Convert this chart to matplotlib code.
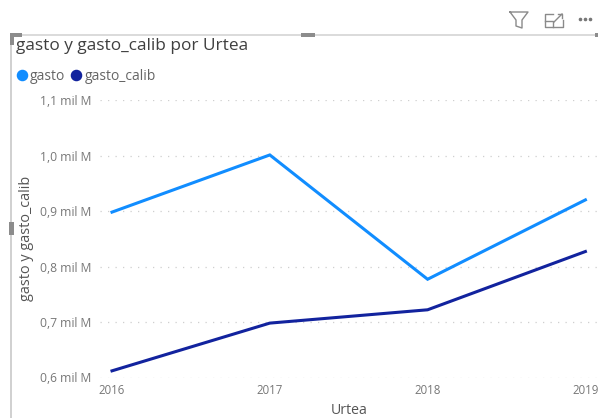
import matplotlib
matplotlib.use("Agg")
import matplotlib.pyplot as plt
from matplotlib.lines import Line2D
from matplotlib.patches import Rectangle

W, H = 598, 418
years = [2016, 2017, 2018, 2019]
gasto = [0.898, 1.001, 0.777, 0.920]
gasto_calib = [0.612, 0.698, 0.722, 0.827]
y_ticks = [0.6, 0.7, 0.8, 0.9, 1.0, 1.1]
y_labels = ["0,6 mil M", "0,7 mil M", "0,8 mil M", "0,9 mil M", "1,0 mil M", "1,1 mil M"]
title = "gasto y gasto_calib por Urtea"
x_title = "Urtea"
y_title = "gasto y gasto_calib"
C1, C2 = "#118DFF", "#12239E"

plt.rcParams["font.family"] = ["Open Sans", "DejaVu Sans"]
fig = plt.figure(figsize=(W / 100, H / 100), dpi=100, facecolor="white")
ax = fig.add_axes([100 / W, (H - 377.5) / H, 498 / W, 277.5 / H])
ax.plot(years, gasto, color=C1, lw=2.2, solid_joinstyle="miter", label="gasto", clip_on=False)
ax.plot(years, gasto_calib, color=C2, lw=2.2, solid_joinstyle="miter", label="gasto_calib", clip_on=False)
ax.set_xlim(2016 - 12 / 157.8, 2016 + 486 / 157.8)
ax.set_ylim(0.6, 1.1)
ax.set_yticks(y_ticks, y_labels)
ax.set_xticks(years, [str(y) for y in years])
ax.tick_params(length=0, labelcolor="#777777")
ax.tick_params(axis="y", labelsize=8.7, pad=6)
ax.tick_params(axis="x", labelsize=8.3, pad=4.5)
ax.grid(axis="y", color="#cfcfcf", lw=0.9, ls=(0, (1, 5)))
ax.set_axisbelow(True)
for s in ax.spines.values():
    s.set_visible(False)
ax.patch.set_alpha(0)

# overlay in pixel coordinates for the report chrome
ov = fig.add_axes([0, 0, 1, 1], zorder=-1)
ov.set_xlim(0, W)
ov.set_ylim(H, 0)
ov.axis("off")
ov.plot([11, 598], [35, 35], color="#d4d4d4", lw=1.2, zorder=1)
ov.plot([11, 11], [35, 418], color="#c8c8c8", lw=1.2, zorder=1)
for (x, y, w, h) in [(10, 33, 12, 4), (10, 33, 4, 12), (301, 33, 14, 4), (9, 222, 5, 13), (595, 33, 3, 4)]:
    ov.add_patch(Rectangle((x, y), w, h, color="#8c8c8c", lw=0, zorder=3))
# filter icon
ov.plot([510, 528, 522, 522, 516, 516, 510], [12, 12, 20, 28, 26, 20, 12], color="#8a8a8a", lw=1)
# focus icon
ov.plot([553, 545, 545, 563, 563], [14, 14, 27, 27, 20], color="#8a8a8a", lw=1)
ov.plot([545, 553, 553], [21, 21, 27], color="#8a8a8a", lw=1)
ov.plot([554, 562], [22, 14], color="#8a8a8a", lw=1)
ov.plot([558, 562, 562], [14, 14, 18], color="#8a8a8a", lw=1)
ov.plot([580, 585, 590], [19, 19, 19], ls="none", marker="o", ms=1.6, color="#777777")

fig.text(16 / W, 1 - 46 / H, title, fontsize=12.4, color="#3f3f3f", va="center", ha="left")
fig.text(349 / W, 1 - 410 / H, x_title, fontsize=10.2, color="#555555", va="center", ha="center")
fig.text(27 / W, 1 - 238 / H, y_title, fontsize=10.4, color="#555555", va="center", ha="center", rotation=90)

handles = [Line2D([], [], ls="none", marker="o", ms=7.3, color=C1),
           Line2D([], [], ls="none", marker="o", ms=7.3, color=C2)]
fig.legend(handles, ["gasto", "gasto_calib"], loc="center left",
           bbox_to_anchor=(12 / W, 1 - 76 / H), ncols=2, frameon=False, fontsize=10,
           labelcolor="#666666", handletextpad=-0.1, columnspacing=0.1, handlelength=1.4,
           borderpad=0, borderaxespad=0)
fig.savefig("out.png", dpi=100)
